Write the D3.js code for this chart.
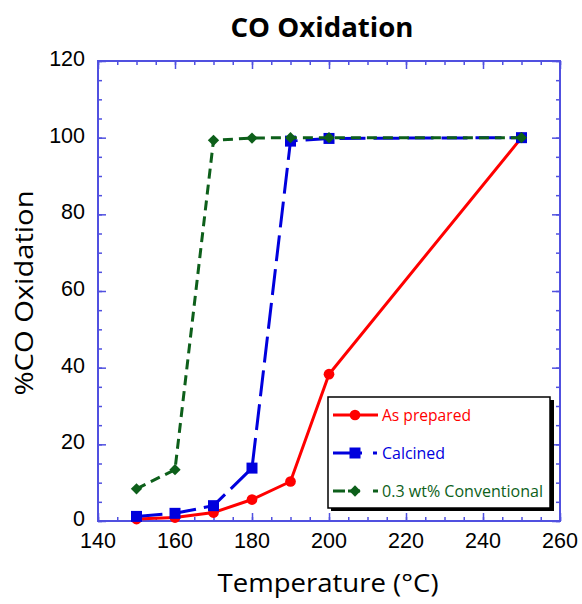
<!DOCTYPE html>
<html>
<head>
<meta charset="utf-8">
<script src="https://cdn.jsdelivr.net/npm/d3@7"></script>
<style>
  body { margin: 0; background: #fff; }
</style>
</head>
<body>
<div id="chart"></div>
<script>
// data
var temps = [150, 160, 170, 180, 190, 200, 250];
var asPrepared = [0.5, 0.9, 2.2, 5.6, 10.3, 38.3, 100];
var calcined = [1.2, 2.0, 4.0, 13.8, 99.1, 99.8, 100];
var conventional = [8.4, 13.4, 99.3, 99.9, 100, 100, 100];
var seriesNames = ["As prepared", "Calcined", "0.3 wt% Conventional"];
var xTicks = [140, 160, 180, 200, 220, 240, 260];
var yTicks = [0, 20, 40, 60, 80, 100, 120];

var width = 582, height = 604;
var plotLeft = 98, plotRight = 560, plotTop = 61, plotBottom = 521;
var axisColor = "#5050e0";

var svg = d3.select("#chart").append("svg")
    .attr("width", width)
    .attr("height", height);

var x = d3.scaleLinear().domain([140, 260]).range([plotLeft, plotRight]);
var y = d3.scaleLinear().domain([0, 120]).range([plotBottom, plotTop]);

//
// frame + ticks (inward, mirrored on all sides)
//
var minorX = d3.range(140, 261, 5), minorY = d3.range(0, 121, 5);

function styleAxis(g) {
    g.select(".domain").remove();
    g.selectAll(".tick line").attr("stroke", axisColor).attr("stroke-width", 1.5);
}

var axes = [
    [d3.axisBottom(x), "translate(0," + plotBottom + ")"],
    [d3.axisTop(x), "translate(0," + plotTop + ")"],
    [d3.axisLeft(y), "translate(" + plotLeft + ",0)"],
    [d3.axisRight(y), "translate(" + plotRight + ",0)"]
];
axes.forEach(function(a, i) {
    var isX = i < 2;
    // minor
    svg.append("g").attr("transform", a[1])
        .call(a[0].tickValues(isX ? minorX : minorY).tickSize(-4).tickFormat(""))
        .call(styleAxis);
    // major
    svg.append("g").attr("transform", a[1])
        .call(a[0].tickValues(isX ? xTicks : yTicks).tickSize(-8).tickFormat(""))
        .call(styleAxis);
});

svg.append("rect")
    .attr("x", plotLeft).attr("y", plotTop)
    .attr("width", plotRight - plotLeft).attr("height", plotBottom - plotTop)
    .attr("fill", "none")
    .attr("stroke", axisColor)
    .attr("stroke-width", 2);

// tick labels
svg.append("g").selectAll("text").data(xTicks).enter().append("text")
    .attr("x", function(d) { return x(d); })
    .attr("y", 548)
    .attr("text-anchor", "middle")
    .attr("font-family", "Liberation Sans, Arial, sans-serif")
    .attr("font-size", 21.5)
    .text(function(d) { return d; });

svg.append("g").selectAll("text").data(yTicks).enter().append("text")
    .attr("x", 85)
    .attr("y", function(d) { return y(d) + 5; })
    .attr("text-anchor", "end")
    .attr("font-family", "Liberation Sans, Arial, sans-serif")
    .attr("font-size", 21.5)
    .text(function(d) { return d; });

// titles
svg.append("text")
    .attr("x", 322).attr("y", 37)
    .attr("text-anchor", "middle")
    .attr("font-family", "Open Sans, sans-serif")
    .attr("font-weight", "bold")
    .attr("font-size", 26)
    .attr("textLength", 183)
    .attr("lengthAdjust", "spacingAndGlyphs")
    .text("CO Oxidation");

svg.append("text")
    .attr("transform", "translate(33,293) rotate(-90)")
    .attr("text-anchor", "middle")
    .attr("font-family", "Open Sans, sans-serif")
    .attr("font-size", 26)
    .attr("textLength", 205)
    .attr("lengthAdjust", "spacingAndGlyphs")
    .text("%CO Oxidation");

svg.append("text")
    .attr("x", 328).attr("y", 592)
    .attr("text-anchor", "middle")
    .attr("font-family", "Open Sans, sans-serif")
    .attr("font-size", 26)
    .attr("textLength", 221)
    .attr("lengthAdjust", "spacingAndGlyphs")
    .text("Temperature (\u00B0C)");

//
// series
//
var diamond = d3.symbol().type(d3.symbolSquare).size(64);
var series = [
    { name: seriesNames[0], values: asPrepared, color: "#ff0000", dash: null, sym: d3.symbol().type(d3.symbolCircle).size(90), rot: 0,
      legendDash: null, legendLen: 89 },
    { name: seriesNames[1], values: calcined, color: "#0000dd", dash: "26,8", sym: d3.symbol().type(d3.symbolSquare).size(121), rot: 0,
      legendDash: "29,11,4,100", legendLen: 63 },
    { name: seriesNames[2], values: conventional, color: "#0d5f1a", dash: "10,6", sym: diamond, rot: 45,
      legendDash: "12,3,12,13,5,100", legendLen: 161 }
];

var line = d3.line()
    .x(function(d) { return x(d[0]); })
    .y(function(d) { return y(d[1]); });

series.forEach(function(s) {
    var pts = temps.map(function(t, i) { return [t, s.values[i]]; });
    svg.append("path")
        .datum(pts)
        .attr("fill", "none")
        .attr("stroke", s.color)
        .attr("stroke-width", 3)
        .attr("stroke-dasharray", s.dash)
        .attr("d", line);
    svg.append("g").selectAll("path").data(pts).enter().append("path")
        .attr("transform", function(d) { return "translate(" + x(d[0]) + "," + y(d[1]) + ") rotate(" + s.rot + ")"; })
        .attr("d", s.sym)
        .attr("fill", s.color);
});

//
// legend
//
var lg = svg.append("g");
lg.append("rect")
    .attr("x", 331).attr("y", 400).attr("width", 223).attr("height", 111)
    .attr("fill", "#000");
lg.append("rect")
    .attr("x", 328).attr("y", 397).attr("width", 222).attr("height", 111)
    .attr("fill", "#fff")
    .attr("stroke", "#000")
    .attr("stroke-width", 1.5);

var legendY = [415, 453, 491];
series.forEach(function(s, i) {
    var ly = legendY[i];
    lg.append("line")
        .attr("x1", 333).attr("x2", 378)
        .attr("y1", ly).attr("y2", ly)
        .attr("stroke", s.color)
        .attr("stroke-width", 3)
        .attr("stroke-dasharray", s.legendDash);
    lg.append("path")
        .attr("transform", "translate(355," + ly + ") rotate(" + s.rot + ")")
        .attr("d", s.sym)
        .attr("fill", s.color);
    lg.append("text")
        .attr("x", 382).attr("y", ly + 6)
        .attr("font-family", "Open Sans, sans-serif")
        .attr("font-size", 16)
        .attr("textLength", s.legendLen)
        .attr("lengthAdjust", "spacingAndGlyphs")
        .attr("fill", s.color)
        .text(s.name);
});
</script>
</body>
</html>
